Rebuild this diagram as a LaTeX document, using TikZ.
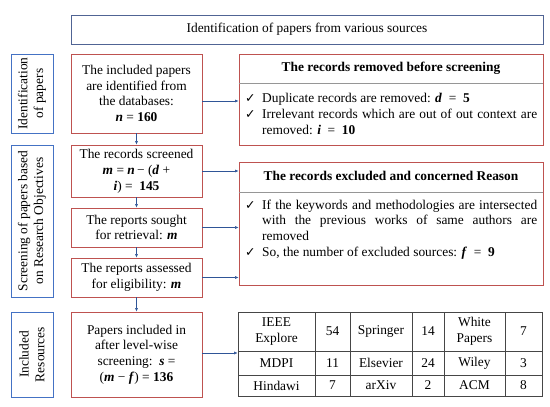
\documentclass[tikz,border=0pt]{standalone}
\usepackage{fontspec}
\setmainfont{Liberation Serif}
\newfontfamily\serf{Liberation Serif}
\newfontfamily\djv{DejaVu Sans}
\usetikzlibrary{arrows.meta,calc}
\definecolor{redb}{RGB}{190,82,80}
\definecolor{blueb}{RGB}{68,114,196}
\definecolor{topb}{RGB}{80,100,148}
\definecolor{arrc}{RGB}{47,85,151}
\definecolor{sepc}{RGB}{150,150,150}
\definecolor{tabc}{RGB}{70,70,70}
\newcommand{\bv}[1]{\textbf{\textit{#1}}}
\newcommand{\chk}{\makebox[17pt][l]{\djv\fontsize{12.5}{12}\selectfont ✓}}
\tikzset{
  every node/.style={font=\serf\fontsize{13.4}{15.8}\selectfont, inner sep=0pt},
  redbox/.style={draw=redb, line width=0.9pt, rectangle, align=center},
  bluebox/.style={draw=blueb, line width=0.9pt, rectangle, align=center},
  topbox/.style={draw=topb, line width=0.9pt, rectangle, align=center},
  arr/.style={draw=arrc, line width=0.5pt, -{Latex[length=3.5pt,width=3pt]}},
  sepline/.style={draw=sepc, line width=0.8pt},
  cell/.style={align=center},
  bul/.style={anchor=north west, text width=292pt, align=justify},
}
\begin{document}
\hyphenpenalty=10000
\exhyphenpenalty=10000
\begin{tikzpicture}[x=1pt,y=-1pt]
\useasboundingbox (0,0) rectangle (550,407);
% top box
\node[topbox, minimum width=472pt, minimum height=29pt] (top) at (307,29.5) {Identification of papers from various sources};
% left labels
\node[bluebox, minimum width=42pt, minimum height=79pt] (labA) at (32,93.5) {};
\node[rotate=90, align=center] (labAt) at (labA.center) {Identification\\of papers};
\node[bluebox, minimum width=42pt, minimum height=152pt] (labB) at (32,221) {};
\node[rotate=90, align=center] (labBt) at (labB.center) {Screening of papers based\\on Research Objectives};
\node[bluebox, minimum width=42pt, minimum height=85pt] (labC) at (32,354.5) {};
\node[rotate=90, align=center] (labCt) at (labC.center) {Included\\Resources};
% left flow boxes
\node[redbox, minimum width=131pt, minimum height=79pt] (b1) at (136.5,93.5) {The included papers\\are identified from\\the databases:\\\bv{n} = \textbf{160}};
\node[redbox, minimum width=131pt, minimum height=52pt] (b2) at (136.5,171) {The records screened\\\bv{m}\ = \bv{n}\,− (\bv{d} +\\\bv{i})\ = \ \textbf{145}};
\node[redbox, minimum width=131pt, minimum height=39pt] (b3) at (136.5,227.5) {The reports sought\\for retrieval: \bv{m}};
\node[redbox, minimum width=131pt, minimum height=39pt] (b4) at (136.5,277.5) {The reports assessed\\for eligibility: \bv{m}};
\node[redbox, minimum width=131pt, minimum height=85pt] (b5) at (136.5,354.5) {Papers included in\\after level-wise\\screening:\ \ \bv{s}\ =\\(\bv{m} − \bv{f})\ =\ \textbf{136}};
% right box 1
\node[redbox, minimum width=304pt, minimum height=91pt] (r1) at (391,99.5) {};
\draw[sepline] (r1.west |- 0,83) -- (r1.east |- 0,83);
\node[font=\serf\fontsize{13.4}{15.8}\selectfont\bfseries] (t1) at (391,68.5) {The records removed before screening};
\node[bul] (l1) at (245,93.5) {\noindent\hangindent=17pt\hangafter=1\chk Duplicate records are removed: \bv{d}\ \ =\ \ \textbf{5}\par\noindent\hangindent=17pt\hangafter=1\chk Irrelevant records which are out of out context are removed: \bv{i}\ \ =\ \ \textbf{10}\par};
% right box 2
\node[redbox, minimum width=304pt, minimum height=123pt] (r2) at (391,223.5) {};
\draw[sepline] (r2.west |- 0,192) -- (r2.east |- 0,192);
\node[font=\serf\fontsize{13.4}{15.8}\selectfont\bfseries] (t2) at (391,175.5) {The records excluded and concerned Reason};
\node[bul] (l2) at (245,199.5) {\noindent\hangindent=17pt\hangafter=1\chk If the keywords and methodologies are intersected with the previous works of same authors are removed\par\noindent\hangindent=17pt\hangafter=1\chk So, the number of excluded sources: \bv{f}\ \ =\ \ \textbf{9}\par};
% table
\node[draw=tabc, line width=0.7pt, minimum width=304pt, minimum height=84pt] (tab) at (390,354) {};
\foreach \xx in {315,350,412,444,505} \draw[tabc, line width=0.7pt] (\xx,312) -- (\xx,396);
\foreach \yy in {351,375} \draw[tabc, line width=0.7pt] (238,\yy) -- (542,\yy);
\node[cell] (c11) at (276.5,331.5) {IEEE\\Explore};
\node[cell] (c12) at (332.5,331.5) {54};
\node[cell] (c13) at (381,331.5) {Springer};
\node[cell] (c14) at (428,331.5) {14};
\node[cell] (c15) at (474.5,331.5) {White\\Papers};
\node[cell] (c16) at (523.5,331.5) {7};
\node[cell] (c21) at (276.5,363) {MDPI};
\node[cell] (c22) at (332.5,363) {11};
\node[cell] (c23) at (381,363) {Elsevier};
\node[cell] (c24) at (428,363) {24};
\node[cell] (c25) at (474.5,363) {Wiley};
\node[cell] (c26) at (523.5,363) {3};
\node[cell] (c31) at (276.5,385.5) {Hindawi};
\node[cell] (c32) at (332.5,385.5) {7};
\node[cell] (c33) at (381,385.5) {arXiv};
\node[cell] (c34) at (428,385.5) {2};
\node[cell] (c35) at (474.5,385.5) {ACM};
\node[cell] (c36) at (523.5,385.5) {8};
% arrows
\draw[arr] (b1.south) -- (b2.north);
\draw[arr] (b2.south) -- (b3.north);
\draw[arr] (b3.south) -- (b4.north);
\draw[arr] (b4.south) -- (b5.north);
\draw[arr] ([yshift=-7.5pt]b1.east) -- ([yshift=-7.5pt]b1.east -| r1.west);
\draw[arr] (b2.east) -- (b2.east -| r2.west);
\draw[arr] (b3.east) -- (b3.east -| r2.west);
\draw[arr] (b4.east) -- (b4.east -| r2.west);
\draw[arr] ([yshift=1.5pt]b5.east) -- ([yshift=1.5pt]b5.east -| tab.west);
\end{tikzpicture}
\end{document}
